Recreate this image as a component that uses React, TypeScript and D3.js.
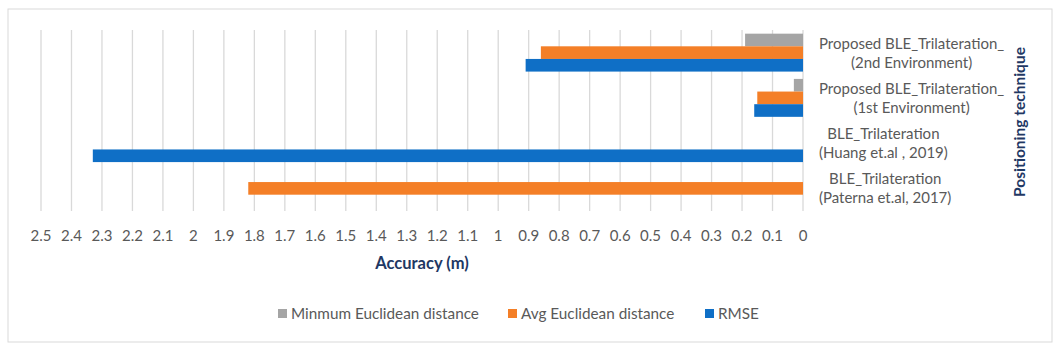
import React from 'react';
import * as d3 from 'd3';

const categories = [
  ['Proposed BLE_Trilateration_', '(2nd Environment)'],
  ['Proposed BLE_Trilateration_', '(1st Environment)'],
  ['BLE_Trilateration', '(Huang et.al , 2019)'],
  ['BLE_Trilateration', '(Paterna et.al, 2017)'],
];
const seriesNames = ['Minmum Euclidean distance', 'Avg Euclidean distance', 'RMSE'];
const seriesColors = ['#A5A5A5', '#F47F27', '#0F6FC6'];
const minValues = [0.19, 0.03, 0, 0];
const avgValues = [0.86, 0.15, 0, 1.82];
const rmseValues = [0.91, 0.16, 2.33, 0];
const ticks = d3.range(0, 26).map((i) => i / 10);

const font = 'Lato, "Open Sans", sans-serif';
const labelSize = 15;

// measure text so each two-line label block can be left aligned next to the axis
const ctx = document.createElement('canvas').getContext('2d');
const textWidth = (s: string) => {
  if (!ctx) return s.length * 7;
  ctx.font = `${labelSize}px ${font}`;
  return ctx.measureText(s).width;
};

const App = () => {
  const width = 1059;
  const height = 349;
  const series = [minValues, avgValues, rmseValues];

  const x = d3.scaleLinear().domain([0, 2.5]).range([803, 41]);
  const y = d3
    .scaleBand()
    .domain(categories.map((c, i) => String(i)))
    .range([30, 211]);
  const inner = d3
    .scaleBand()
    .domain(seriesNames)
    .range([0, y.bandwidth()])
    .paddingInner(0)
    .paddingOuter(0.29);

  return (
    <svg width={width} height={height} style={{ position: 'absolute', left: 0, top: 0 }}>
      <rect x={0} y={0} width={width} height={height} fill='white' />
      <rect x={8} y={9} width={1044} height={333} fill='white' stroke='#D9D9D9' strokeWidth={1} />
      {ticks.map((t) => (
        <line key={t} x1={x(t)} x2={x(t)} y1={30} y2={211} stroke='#D9D9D9' strokeWidth={1.3} />
      ))}
      {categories.map((c, i) =>
        series.map((vals, s) =>
          vals[i] > 0 ? (
            <rect
              key={i + '-' + s}
              x={x(vals[i])}
              y={y(String(i))! + inner(seriesNames[s])!}
              width={x(0) - x(vals[i])}
              height={inner.bandwidth()}
              fill={seriesColors[s]}
            />
          ) : null
        )
      )}
      {ticks.map((t) => (
        <text
          key={'l' + t}
          x={x(t)}
          y={240.5}
          textAnchor='middle'
          fontFamily={font}
          fontSize={15}
          fill='#595959'
        >
          {d3.format('~g')(t)}
        </text>
      ))}
      {categories.map((c, i) => {
        const cx = 819 + Math.max(textWidth(c[0]), textWidth(c[1])) / 2;
        const cy = y(String(i))! + y.bandwidth() / 2;
        return (
          <text key={'c' + i} textAnchor='middle' fontFamily={font} fontSize={labelSize} fill='#595959'>
            <tspan x={cx} y={cy - 4}>{c[0]}</tspan>
            <tspan x={cx} y={cy + 15}>{c[1]}</tspan>
          </text>
        );
      })}
      <text
        x={422}
        y={269}
        textAnchor='middle'
        fontFamily={font}
        fontWeight='bold'
        fontSize={16.5}
        fill='#1F3864'
      >
        Accuracy (m)
      </text>
      <text
        transform='translate(1025,122) rotate(-90)'
        textAnchor='middle'
        fontFamily={font}
        fontWeight='bold'
        fontSize={15.5}
        fill='#1F3864'
      >
        Positioning technique
      </text>
      {[278, 508, 705].map((lx, s) => (
        <g key={'lg' + s}>
          <rect x={lx} y={309} width={9} height={9} fill={seriesColors[s]} />
          <text x={lx + 13} y={318.5} fontFamily={font} fontSize={15.3} fill='#595959'>
            {seriesNames[s]}
          </text>
        </g>
      ))}
    </svg>
  );
};

export default App;
